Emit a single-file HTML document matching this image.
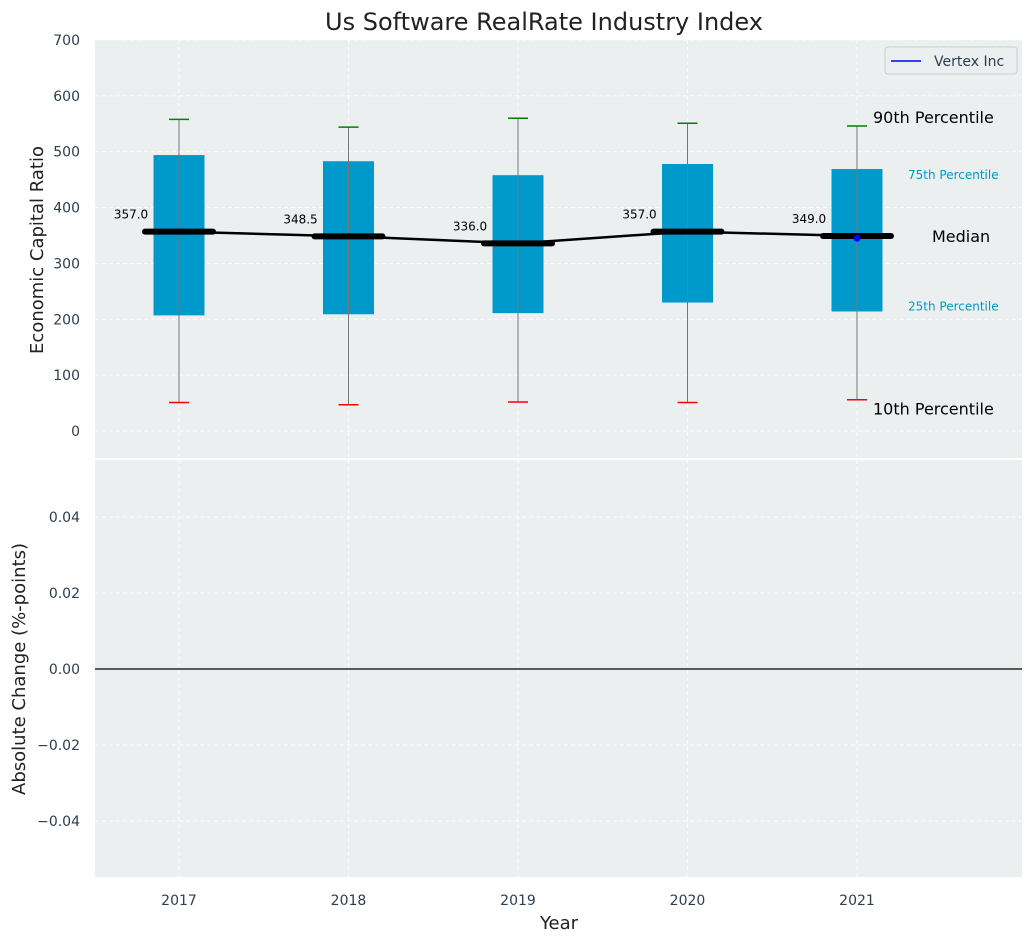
<!DOCTYPE html>
<html><head><meta charset="utf-8"><style>
body{margin:0;background:#fff;font-family:"Liberation Sans","DejaVu Sans",sans-serif}
svg text{font-family:"DejaVu Sans","Liberation Sans",sans-serif}
</style></head><body>
<svg id="c" width="1034" height="942" xmlns="http://www.w3.org/2000/svg"></svg>
<script>
const years=[2017,2018,2019,2020,2021];
const p10=[51,47,52,51,56];
const p25=[207,209,211,230,214];
const medians=[357.0,348.5,336.0,357.0,349.0];
const p75=[494,483,458,478,469];
const p90=[558,544,560,551,546];
const vertexYears=[2021];
const vertexValues=[345];
const topTicks=[0,100,200,300,400,500,600,700];
const botTicks=[-0.04,-0.02,0.00,0.02,0.04];
const botTickLabels=["\u22120.04","\u22120.02","0.00","0.02","0.04"];

const NS="http://www.w3.org/2000/svg";
const svg=document.getElementById('c');
function el(t,a,txt){const e=document.createElementNS(NS,t);for(const k in a)e.setAttribute(k,a[k]);if(txt!=null)e.textContent=txt;svg.appendChild(e);return e;}
const L=95,R=1022;
const x=v=>179+(v-2017)*169.5;
const yT=v=>431-v*(391/700);
const yB=v=>669-v*(152/0.04);

let e;
e=el('rect',{x:L,y:40,width:R-L,height:418,fill:'#ebeff0'});


e=el('rect',{x:L,y:460,width:R-L,height:417,fill:'#ebeff0'});



years.forEach(yr=>{
 el('line',{x1:x(yr),x2:x(yr),y1:40,y2:458,stroke:'#fff','stroke-dasharray':'4,3','stroke-width':0.8});
 el('line',{x1:x(yr),x2:x(yr),y1:460,y2:877,stroke:'#fff','stroke-dasharray':'4,3','stroke-width':0.8});
 e=el('text',{x:x(yr),y:905,'font-size':14,fill:'#2d3e50','text-anchor':'middle'},yr);
 
 
});
topTicks.forEach(t=>{
 el('line',{x1:L,x2:R,y1:yT(t),y2:yT(t),stroke:'#fff','stroke-dasharray':'4,3','stroke-width':0.8});
 e=el('text',{x:80,y:yT(t)+5,'font-size':14,fill:'#2d3e50','text-anchor':'end'},t);
 
 
});
botTicks.forEach((t,i)=>{
 el('line',{x1:L,x2:R,y1:yB(t),y2:yB(t),stroke:'#fff','stroke-dasharray':'4,3','stroke-width':0.8});
 e=el('text',{x:80,y:yB(t)+5,'font-size':14,fill:'#2d3e50','text-anchor':'end'},botTickLabels[i]);
 
 
});
e=el('line',{x1:L,x2:R,y1:yB(0),y2:yB(0),stroke:'#000','stroke-width':1.2});



const bw=51, mw=68, cw=20;
years.forEach((yr,i)=>{
 const cx=x(yr);
 e=el('rect',{x:cx-bw/2,y:yT(p75[i]),width:bw,height:yT(p25[i])-yT(p75[i]),fill:'#0099cc'});
 
 
 e=el('line',{x1:cx,x2:cx,y1:yT(p90[i]),y2:yT(p10[i]),stroke:'#777','stroke-width':1});
 
 
 e=el('line',{x1:cx-cw/2,x2:cx+cw/2,y1:yT(p90[i]),y2:yT(p90[i]),stroke:'green','stroke-width':1.5});
 
 
 e=el('line',{x1:cx-cw/2,x2:cx+cw/2,y1:yT(p10[i]),y2:yT(p10[i]),stroke:'red','stroke-width':1.5});
 
 
});
let pts=years.map((yr,i)=>x(yr)+','+yT(medians[i])).join(' ');
e=el('polyline',{points:pts,fill:'none',stroke:'#000','stroke-width':2.5});


years.forEach((yr,i)=>{
 const cx=x(yr);
 e=el('line',{x1:cx-mw/2,x2:cx+mw/2,y1:yT(medians[i]),y2:yT(medians[i]),stroke:'#000','stroke-width':6,'stroke-linecap':'round'});
 
 
 e=el('text',{x:cx-48,y:yT(medians[i])-13,'font-size':12,fill:'#000','text-anchor':'middle'},medians[i].toFixed(1));
 
 
});
vertexYears.forEach((yr,i)=>{
 e=el('circle',{cx:x(yr),cy:yT(vertexValues[i]),r:3.5,fill:'blue'});
 
 
});
const last=years.length-1, lx=x(years[last]);
[[lx+16,yT(p90[last])-3,'90th Percentile',16,'#000','start'],
 [lx+51,yT(p75[last])+10,'75th Percentile',12,'#0099cc','start'],
 [lx+75,yT(medians[last])+6,'Median',16,'#000','start'],
 [lx+51,yT(p25[last])-1,'25th Percentile',12,'#0099cc','start'],
 [lx+16,yT(p10[last])+15,'10th Percentile',16,'#000','start']].forEach(a=>{
 e=el('text',{x:a[0],y:a[1],'font-size':a[3],fill:a[4],'text-anchor':a[5]},a[2]);
 
 
});
e=el('rect',{x:885,y:47,width:132,height:27,rx:3,fill:'#ebeff0',stroke:'#ccc'});


el('line',{x1:891,x2:921,y1:61,y2:61,stroke:'blue','stroke-width':1.5});
e=el('text',{x:934,y:66,'font-size':14,fill:'#2d3e50'},'Vertex Inc');


e=el('text',{x:544,y:30,'font-size':24,fill:'#222','text-anchor':'middle'},'Us Software RealRate Industry Index');


e=el('text',{x:559,y:929,'font-size':18,fill:'#222','text-anchor':'middle'},'Year');


e=el('text',{x:0,y:0,'font-size':18,fill:'#222','text-anchor':'middle',transform:'translate(43,250) rotate(-90)'},'Economic Capital Ratio');


e=el('text',{x:0,y:0,'font-size':18,fill:'#222','text-anchor':'middle',transform:'translate(25,669) rotate(-90)'},'Absolute Change (%-points)');


</script>
</body></html>
